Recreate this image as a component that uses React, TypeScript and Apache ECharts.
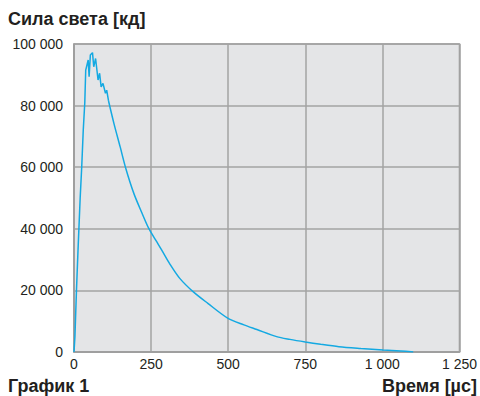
import React, { useEffect, useRef } from "react";
import * as echarts from "echarts";

const timeUs = [0, 3, 8, 13, 20, 25, 30, 35, 38, 46, 49, 53, 60, 64, 70, 78, 83, 88, 94, 102, 106, 112, 130, 150, 168, 194, 220, 242, 265, 285, 310, 343, 386, 434, 497, 551, 593, 657, 700, 750, 800, 859, 930, 1002, 1060, 1093, 1100];
const intensity = [0, 5000, 20000, 33000, 50000, 60000, 72000, 81000, 91500, 94800, 89400, 96400, 97200, 92600, 95300, 88300, 90500, 86100, 87200, 84000, 85000, 81500, 74000, 66500, 59600, 51500, 45200, 40200, 36300, 33000, 28700, 23900, 19600, 15800, 11100, 8800, 7300, 5000, 4100, 3250, 2500, 1730, 1150, 650, 350, 100, 0];

const xTicks = [0, 250, 500, 750, 1000, 1250];
const yTicks = [0, 20000, 40000, 60000, 80000, 100000];
const smoothFromTime = 112;

const fmt = (v: number) => String(v).replace(/\B(?=(\d{3})+(?!\d))/g, " ");
const FONT = "'Liberation Sans', Arial, sans-serif";

export default function App() {
  const ref = useRef<HTMLDivElement>(null);
  useEffect(() => {
    const chart = echarts.init(ref.current!, null, { renderer: "svg" });
    const data = timeUs.map((t, i) => [t, intensity[i]]);
    const head = data.filter((d) => d[0] <= smoothFromTime);
    const tail = data.filter((d) => d[0] >= smoothFromTime);
    const line = { color: "#14a9e2", width: 1.5 };
    chart.setOption({
      animation: false,
      backgroundColor: "#ffffff",
      textStyle: { fontFamily: FONT },
      grid: {
        left: 74,
        right: 14,
        top: 44,
        bottom: 44,
        show: true,
        backgroundColor: "#e4e5e7",
        borderColor: "#9d9d9d",
        borderWidth: 1.5,
      },
      xAxis: {
        type: "value",
        min: xTicks[0],
        max: xTicks[xTicks.length - 1],
        interval: 250,
        axisLine: { show: true, lineStyle: { color: "#9d9d9d", width: 1.5 } },
        axisTick: { show: false },
        splitLine: { show: true, lineStyle: { color: "#a3a3a3", width: 1.5 } },
        axisLabel: {
          color: "#231f20",
          fontSize: 14,
          margin: 5,
          formatter: (v: number) => fmt(v),
          fontFamily: FONT,
        },
      },
      yAxis: {
        type: "value",
        min: yTicks[0],
        max: yTicks[yTicks.length - 1],
        interval: 20000,
        axisLine: { show: true, lineStyle: { color: "#9d9d9d", width: 1.5 } },
        axisTick: { show: false },
        splitLine: { show: true, lineStyle: { color: "#a3a3a3", width: 1.5 } },
        axisLabel: {
          color: "#231f20",
          fontSize: 14,
          margin: 11,
          formatter: (v: number) => fmt(v),
          fontFamily: FONT,
        },
      },
      series: [
        {
          type: "line",
          data: head,
          showSymbol: false,
          smooth: false,
          lineStyle: line,
        },
        {
          type: "line",
          data: tail,
          showSymbol: false,
          smooth: 0.3,
          lineStyle: line,
        },
      ],
      graphic: [
        {
          type: "text",
          left: 8,
          top: 10,
          style: {
            text: "Сила света [кд]",
            font: `bold 18px ${FONT}`,
            fill: "#231f20",
          },
        },
        {
          type: "text",
          left: 8,
          top: 377,
          style: {
            text: "График 1",
            font: `bold 18px ${FONT}`,
            fill: "#231f20",
          },
        },
        {
          type: "text",
          right: 3,
          top: 377,
          style: {
            text: "Время [µс]",
            font: `bold 18px ${FONT}`,
            fill: "#231f20",
          },
        },
      ],
    });
    return () => chart.dispose();
  }, []);
  return <div ref={ref} style={{ width: 480, height: 396, position: "absolute", left: 0, top: 0 }} />;
}
